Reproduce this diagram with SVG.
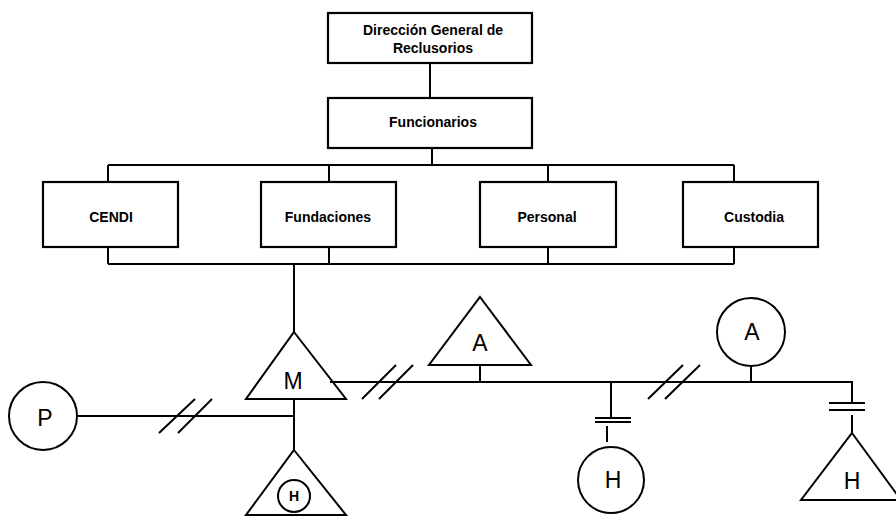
<svg xmlns="http://www.w3.org/2000/svg" width="896" height="517" viewBox="0 0 896 517">
<style>
.box{fill:#fff;stroke:#000;stroke-width:2.2}
.shape{fill:#fff;stroke:#000;stroke-width:2}
.ln{fill:none;stroke:#000;stroke-width:2}
.lbl{font-family:"Liberation Sans",Arial,sans-serif;font-weight:bold;font-size:14px;text-anchor:middle;fill:#000}
.big{font-family:"Liberation Sans",Arial,sans-serif;font-size:23px;text-anchor:middle;fill:#000}
</style>
<rect width="896" height="517" fill="#fff"/>
<g id="connectors">
<path class="ln" d="M430 63V98"/>
<path class="ln" d="M432 148V165M108 165H734M108 165V182M329 165V182M548 165V182M734 165V182"/>
<path class="ln" d="M108 247V264M329 247V264M548 247V264M734 247V264M108 264H734"/>
<path class="ln" d="M294 264V332"/>
<path class="ln" d="M294 399V450"/>
<path class="ln" d="M77 416H294"/>
<path class="ln" d="M159 433L195 399M178 433L212 399"/>
<path class="ln" d="M330 382H852V403"/>
<path class="ln" d="M362 399L396 365M379 399L413 365"/>
<path class="ln" d="M648 399L683 365M665 399L700 365"/>
<path class="ln" d="M480 365V382"/>
<path class="ln" d="M751 366V382"/>
<path class="ln" d="M611 382V418M595 418H631M595 422H631M607 426V442"/>
<path class="ln" d="M829 403H865M829 410H865M852 415V433"/>
</g>
<g id="direccion">
<rect class="box" x="328" y="13" width="204" height="50"/>
<text class="lbl" x="433" y="35">Dirección General de</text>
<text class="lbl" x="433" y="53">Reclusorios</text>
</g>
<g id="funcionarios">
<rect class="box" x="328" y="98" width="204" height="50"/>
<text class="lbl" x="433" y="127">Funcionarios</text>
</g>
<g id="cendi">
<rect class="box" x="43" y="182" width="135" height="65"/>
<text class="lbl" x="111" y="222">CENDI</text>
</g>
<g id="fundaciones">
<rect class="box" x="261" y="182" width="135" height="65"/>
<text class="lbl" x="328" y="222">Fundaciones</text>
</g>
<g id="personal">
<rect class="box" x="480" y="182" width="136" height="65"/>
<text class="lbl" x="547" y="222">Personal</text>
</g>
<g id="custodia">
<rect class="box" x="683" y="182" width="135" height="65"/>
<text class="lbl" x="754" y="222">Custodia</text>
</g>
<g id="M">
<polygon class="shape" points="294,332 346,399 246,399"/>
<line class="ln" x1="330" y1="382" x2="346" y2="382"/>
<text class="big" x="293" y="389">M</text>
</g>
<g id="P">
<circle class="shape" cx="43" cy="416" r="34"/>
<text class="big" x="45" y="426">P</text>
</g>
<g id="H1">
<polygon class="shape" points="294,450 346,515 246,515"/>
<circle class="shape" cx="294" cy="496" r="16"/>
<text class="lbl" x="294" y="501">H</text>
</g>
<g id="A1">
<polygon class="shape" points="480,297 531,365 429,365"/>
<text class="big" x="480" y="351">A</text>
</g>
<g id="H2">
<circle class="shape" cx="611" cy="480" r="33"/>
<text class="big" x="613" y="488">H</text>
</g>
<g id="A2">
<circle class="shape" cx="751" cy="332" r="34"/>
<text class="big" x="752" y="340">A</text>
</g>
<g id="H3">
<polygon class="shape" points="852,433 901,500 801,500"/>
<text class="big" x="852" y="489">H</text>
</g>
</svg>
